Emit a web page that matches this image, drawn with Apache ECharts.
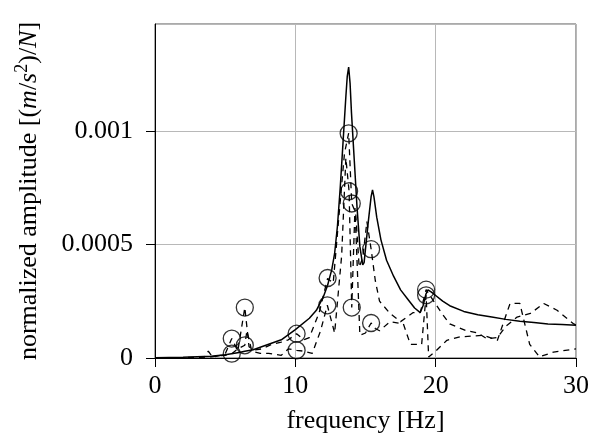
<!DOCTYPE html>
<html>
<head>
<meta charset="utf-8">
<script src="https://cdn.jsdelivr.net/npm/echarts@6/dist/echarts.min.js"></script>
<style>
  html, body { margin: 0; padding: 0; background: #fff; }
  #chart { width: 600px; height: 441px; }
</style>
</head>
<body>
<div id="chart"></div>
<script>
// model (solid line)
const modelFreq = [0, 2, 4, 5, 6, 6.4, 7, 8, 9, 10, 11, 11.5, 12, 12.3, 12.6, 12.8, 13.0, 13.2, 13.4, 13.6, 13.7, 13.8,
    13.9, 14.0, 14.2, 14.4, 14.6, 14.8, 14.9, 15.0, 15.2, 15.4, 15.5, 15.6, 15.8, 16.1, 16.5, 17.0, 17.5, 18.0, 18.5, 18.9,
    19.1, 19.3, 19.45, 19.7, 20, 20.5, 21, 22, 23, 24, 25, 26, 27, 28, 29, 30];
const modelAmp = [0.000001, 0.000003, 0.000008, 0.000014, 0.000024, 0.00003, 0.000036, 0.000058, 0.00008, 0.000125,
    0.000175, 0.00021, 0.00027, 0.00032, 0.00039, 0.00046, 0.00058, 0.00075, 0.00095, 0.00115, 0.00124, 0.00128,
    0.00121, 0.00108, 0.00087, 0.00066, 0.00049, 0.00041, 0.00042, 0.00048, 0.0006, 0.00071, 0.00074, 0.00071, 0.00062, 0.00052,
    0.00043, 0.00036, 0.0003, 0.00026, 0.00022, 0.0002,
    0.00023, 0.00028, 0.0003, 0.00029, 0.000275, 0.00025, 0.00023, 0.000205, 0.00019, 0.00018, 0.00017, 0.000162, 0.000156, 0.00015, 0.000147, 0.000144];

// measurement 1 (dashed, upper)
const meas1Freq = [0, 1, 2, 3, 3.5, 3.8, 4.1, 4.6, 5.0, 5.47, 5.9, 6.4, 6.7, 7.0, 7.6, 8.3, 9.0, 9.5, 10.09,
    10.6, 11.0, 11.7, 12.3, 12.7, 13.1, 13.5, 13.8, 14.02, 14.3, 14.55, 14.8, 15.1, 15.4, 15.7, 16.0,
    16.75, 17.5, 18.4, 18.9, 19.32, 20.4, 21.0, 22.2, 23.0, 23.65, 24.4, 25.0, 25.8, 26.75, 27.7,
    28.65, 29.84, 30];
const meas1Amp = [0, 0.000001, 0.000002, 0.000003, 0.000005, 0.00003, 0.000004, 0.00001, 0.000018, 0.0000855,
    0.00003, 0.000222, 0.00005, 0.000035, 0.00004, 0.00006, 0.00007, 0.00008, 0.000107,
    0.00008, 0.00009, 0.0002, 0.00035, 0.00033, 0.00062, 0.0009, 0.00099, 0.00068, 0.00064, 0.0004,
    0.00044, 0.0006, 0.000479, 0.00034, 0.00025,
    0.000196, 0.00016, 0.0002, 0.0002, 0.000301, 0.0002, 0.00015, 0.00012, 0.00011, 0.000085,
    0.00009, 0.00014, 0.00018, 0.000196, 0.00024, 0.00021, 0.00015, 0.000145];

// measurement 2 (dashed, lower)
const meas2Freq = [0, 2, 3, 4, 4.5, 5.0, 5.47, 5.9, 6.4, 6.55, 6.9, 7.5, 8.1, 9.0, 9.5, 10.09, 10.6, 11.2,
    11.8, 12.28, 12.8, 13.3, 13.6, 13.83, 14.02, 14.25, 14.6, 15.0, 15.4, 15.7, 16.0, 16.75, 17.7,
    18.2, 19.0, 19.32, 19.5, 20.0, 20.8, 21.75, 23.4, 24.4, 25.3, 26.0, 26.7, 27.4, 28.4, 30];
const meas2Amp = [0, 0.000001, 0.000002, 0.000005, 0.00001, 0.000012, 0.000019, 0.00004, 0.000056, 0.00012,
    0.00003, 0.00002, 0.00002, 0.000012, 0.00004, 0.000034, 0.00003, 0.00002,
    0.00012, 0.000232, 0.00011, 0.00045, 0.00088, 0.000734, 0.000222, 0.00066, 0.0001, 0.00011,
    0.000154, 0.00013, 0.00012, 0.00016, 0.00015,
    0.00006, 0.00006, 0.000276, 0.000004, 0.00003, 0.000078, 0.000093, 0.0001, 0.000078, 0.00024,
    0.00024, 0.00006, 0.000005, 0.000026, 0.00004];

// identified peaks (circles)
const peakFreq = [5.47, 5.47, 6.4, 6.4, 10.09, 10.09, 12.3, 12.28, 13.8, 13.83, 14.02, 14.02, 15.4, 15.4, 19.32, 19.32];
const peakAmp = [0.0000855, 0.000019, 0.000222, 0.000056, 0.000107, 0.000034, 0.000352, 0.000232,
    0.000989, 0.000734, 0.00068, 0.000222, 0.000479, 0.000154, 0.000301, 0.000276];

const xTicks = [0, 10, 20, 30];
const yTicks = [0, 0.0005, 0.001];

const zip = (xs, ys) => xs.map((x, i) => [x, ys[i]]);
const font = "'Liberation Serif', 'DejaVu Serif', serif";

const chartDom = document.getElementById('chart');
const myChart = echarts.init(chartDom);

myChart.setOption({
    animation: false,
    grid: {
        left: 155, top: 24, width: 421, height: 334,
        show: true, borderColor: '#555', borderWidth: 1
    },
    xAxis: {
        type: 'value',
        min: 0, max: 30, interval: 10,
        name: 'frequency [Hz]',
        nameLocation: 'middle',
        nameGap: 50,
        nameTextStyle: { fontFamily: font, fontSize: 26, color: '#000' },
        axisLine: { lineStyle: { color: '#000', width: 1 } },
        axisTick: { show: true, inside: false, length: 9, lineStyle: { color: '#000' } },
        axisLabel: {
            fontFamily: font, fontSize: 26, color: '#000', margin: 15,
            formatter: v => xTicks.includes(v) ? String(v) : ''
        },
        splitLine: { show: true, lineStyle: { color: '#b8b8b8', width: 1 } }
    },
    yAxis: {
        type: 'value',
        min: 0, max: 0.00147, interval: 0.0005,
        name: 'normalized amplitude [({i|m}/{i|s}{sup|2})/{i|N}]',
        nameLocation: 'middle',
        nameGap: 110,
        nameRotate: 90,
        nameTextStyle: {
            fontFamily: font, fontSize: 26, color: '#000',
            rich: {
                i: { fontFamily: font, fontSize: 26, fontStyle: 'italic', color: '#000' },
                sup: { fontFamily: font, fontSize: 18, color: '#000', padding: [0, 0, 14, 0] }
            }
        },
        axisLine: { show: true, lineStyle: { color: '#000', width: 1 } },
        axisTick: { show: true, inside: false, length: 9, lineStyle: { color: '#000' } },
        axisLabel: {
            fontFamily: font, fontSize: 26, color: '#000', margin: 22,
            showMaxLabel: false,
            formatter: v => {
                const r = parseFloat(v.toPrecision(6));
                return yTicks.includes(r) ? String(r) : '';
            }
        },
        splitLine: { show: true, lineStyle: { color: '#b8b8b8', width: 1 } }
    },
    series: [
        {
            name: 'model',
            type: 'line',
            data: zip(modelFreq, modelAmp),
            showSymbol: false,
            lineStyle: { color: '#000', width: 1.5 },
            z: 3
        },
        {
            name: 'measured 1',
            type: 'line',
            data: zip(meas1Freq, meas1Amp),
            showSymbol: false,
            lineStyle: { color: '#000', width: 1.3, type: [6, 5] },
            z: 2
        },
        {
            name: 'measured 2',
            type: 'line',
            data: zip(meas2Freq, meas2Amp),
            showSymbol: false,
            lineStyle: { color: '#000', width: 1.3, type: [6, 5] },
            z: 2
        },
        {
            name: 'peaks',
            type: 'scatter',
            data: zip(peakFreq, peakAmp),
            symbol: 'circle',
            symbolSize: 17,
            itemStyle: { color: 'rgba(0,0,0,0)', borderColor: '#000', borderWidth: 1.3 },
            z: 4
        }
    ]
});

new ResizeObserver(() => myChart.resize()).observe(chartDom);
</script>
</body>
</html>
